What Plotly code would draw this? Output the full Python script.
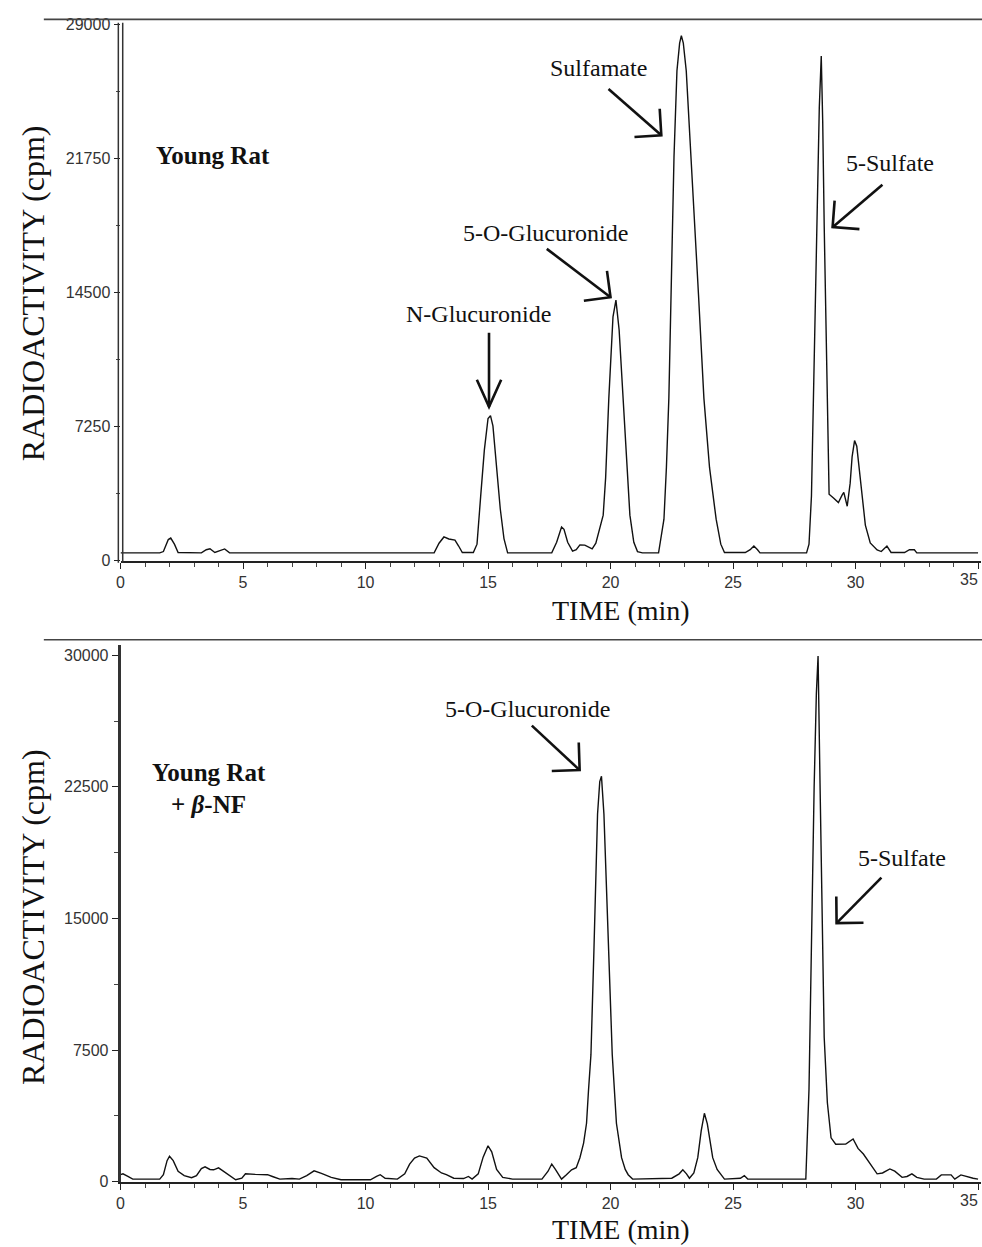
import math
import plotly.graph_objects as go

W, H = 982, 1247

# ---------------- data ----------------
top_time = [0.0, 1.6, 1.75, 1.95, 2.05, 2.2, 2.35, 3.3, 3.5, 3.65, 3.85, 4.1, 4.25, 4.45,
            12.8, 13.0, 13.2, 13.4, 13.65, 13.8, 13.95, 14.4, 14.55, 14.7, 14.85, 15.0, 15.1,
            15.2, 15.35, 15.5, 15.65, 15.8, 17.6, 17.8, 18.0, 18.1, 18.25, 18.45, 18.6, 18.75,
            18.95, 19.15, 19.25, 19.4, 19.55, 19.7, 19.8, 19.93, 20.1, 20.22, 20.35, 20.51,
            20.65, 20.79, 20.95, 21.1, 21.3, 21.96, 22.18, 22.28, 22.38, 22.48, 22.59, 22.71,
            22.82, 22.89, 22.97, 23.09, 23.29, 23.59, 23.81, 24.04, 24.31, 24.5, 24.65, 25.5,
            25.7, 25.85, 26.0, 26.1, 28.0, 28.1, 28.2, 28.27, 28.39, 28.47, 28.52, 28.6, 28.66,
            28.72, 28.79, 28.85, 28.92, 29.1, 29.3, 29.45, 29.52, 29.66, 29.78, 29.86, 29.96,
            30.05, 30.13, 30.27, 30.4, 30.6, 30.88, 31.05, 31.28, 31.45, 32.0, 32.2, 32.4,
            32.5, 35.0]
top_cpm = [430, 430, 500, 1150, 1230, 900, 450, 430, 600, 650, 450, 560, 640, 430,
           430, 950, 1290, 1180, 1120, 800, 450, 450, 900, 3500, 6000, 7700, 7850,
           7300, 5000, 2800, 1200, 430, 430, 1000, 1830, 1700, 1000, 520, 600, 860,
           850, 700, 650, 950, 1700, 2470, 4500, 8800, 13200, 14100, 12500, 8800,
           5000, 2470, 1000, 500, 430, 430, 2250, 5050, 8800, 14390, 21850, 26500,
           28000, 28400, 28000, 26500, 21850, 14390, 8800, 5050, 2250, 900, 450, 450,
           600, 800, 600, 430, 430, 900, 3500, 7900, 14400, 20000, 24500, 27300, 23700,
           18150, 12560, 7300, 3600, 3400, 3150, 3550, 3700, 2950, 4200, 5640, 6500,
           6200, 5260, 3300, 1930, 970, 590, 500, 800, 450, 450, 600, 600,
           430, 430]

bot_time = [0.0, 0.1, 0.3, 0.5, 1.6, 1.75, 1.9, 2.0, 2.15, 2.35, 2.6, 2.9, 3.1, 3.3, 3.45,
            3.65, 3.8, 4.0, 4.15, 4.4, 4.7, 4.95, 5.1, 5.5, 6.0, 6.2, 6.5, 7.0, 7.3, 7.6,
            7.9, 8.2, 8.6, 9.0, 10.2, 10.45, 10.6, 10.8, 11.3, 11.6, 11.8, 12.0, 12.2, 12.5,
            12.8, 13.1, 13.3, 13.6, 14.0, 14.2, 14.35, 14.6, 14.8, 15.0, 15.15, 15.35, 15.6,
            16.0, 17.2, 17.45, 17.6, 17.75, 18.0, 18.2, 18.41, 18.6, 18.75, 18.9, 19.02,
            19.1, 19.2, 19.32, 19.47, 19.56, 19.63, 19.73, 19.93, 20.07, 20.24, 20.45, 20.6,
            20.72, 20.9, 22.5, 22.8, 22.95, 23.1, 23.22, 23.4, 23.56, 23.7, 23.83, 23.95,
            24.17, 24.35, 24.65, 25.3, 25.46, 25.6, 27.97, 28.1, 28.2, 28.31, 28.4, 28.47,
            28.55, 28.65, 28.72, 28.85, 29.0, 29.19, 29.6, 29.9, 30.1, 30.32, 30.6, 30.88,
            31.1, 31.4, 31.6, 31.9, 32.1, 32.3, 32.5, 32.8, 33.3, 33.5, 33.9, 34.05, 34.3,
            34.5, 34.8, 35.0]
bot_cpm = [400, 450, 300, 150, 150, 400, 1200, 1450, 1200, 600, 350, 230, 350, 750, 850,
           700, 680, 790, 650, 400, 110, 200, 450, 420, 400, 300, 150, 180, 150, 350,
           620, 480, 250, 110, 110, 300, 400, 200, 150, 450, 1000, 1350, 1470, 1350,
           800, 500, 400, 200, 180, 300, 150, 450, 1400, 2050, 1700, 700, 250,
           150, 150, 600, 1010, 700, 150, 400, 680, 800, 1370, 2200, 3330,
           5200, 7240, 13100, 20950, 22800, 23100, 20950, 13100, 7240, 3330, 1370, 700,
           400, 150, 200, 450, 680, 450, 200, 500, 1370, 2900, 3900, 3300,
           1370, 700, 150, 200, 350, 150, 150, 5280, 14680, 22500, 27800, 29950,
           22700, 12500, 8230, 4500, 2500, 2140, 2150, 2440, 1900, 1580, 1000, 450,
           500, 730, 600, 250, 300, 450, 250, 150, 150, 390, 390, 150, 390,
           300, 200, 150]

x_ticks = [0, 5, 10, 15, 20, 25, 30, 35]
top_y_ticks = [0, 7250, 14500, 21750, 29000]
bot_y_ticks = [0, 7500, 15000, 22500, 30000]

# ---------------- helpers (pixel -> paper) ----------------
def fx(px):
    return px / W

def fy(py):
    return 1 - py / H

fig = go.Figure()
fig.add_trace(go.Scatter(x=top_time, y=top_cpm, mode="lines", xaxis="x", yaxis="y",
                         line=dict(color="#111111", width=1.4), showlegend=False))
fig.add_trace(go.Scatter(x=bot_time, y=bot_cpm, mode="lines", xaxis="x2", yaxis="y2",
                         line=dict(color="#111111", width=1.4), showlegend=False))

tickfont = dict(family="Liberation Sans, Arial, sans-serif", size=16, color="#333333")
xdom = [fx(117), fx(980.5)]

# last x label (35) sits at the very edge: it is drawn as an annotation nudged inwards
x_ticktext = [str(v) for v in x_ticks[:-1]] + [""]

common_x = dict(range=[0, 35.1], tickvals=x_ticks, ticktext=x_ticktext,
                ticks="outside", ticklen=6, tickwidth=1.2, tickcolor="#222",
                showline=True, linecolor="#222", linewidth=2, showgrid=False, zeroline=False,
                tickfont=tickfont, fixedrange=True,
                minor=dict(dtick=1, tick0=0, ticks="outside", ticklen=4, tickwidth=1,
                           tickcolor="#444"))

fig.update_layout(
    width=W, height=H, autosize=False,
    margin=dict(l=0, r=0, t=0, b=0),
    paper_bgcolor="white", plot_bgcolor="white",
    xaxis=dict(domain=xdom, anchor="y", **common_x),
    xaxis2=dict(domain=xdom, anchor="y2", **common_x),
    yaxis=dict(domain=[fy(561), fy(16)], range=[0, 29100], anchor="x",
               tickvals=top_y_ticks, ticktext=[str(v) for v in top_y_ticks],
               ticks="outside", ticklen=6, tickwidth=1.2, tickcolor="#222",
               showline=False, showgrid=False, zeroline=False, tickfont=tickfont,
               minor=dict(dtick=3625, tick0=0, ticks="outside", ticklen=4, tickwidth=1,
                          tickcolor="#444")),
    yaxis2=dict(domain=[fy(1190), fy(646)], range=[0, 30600], anchor="x2",
                tickvals=bot_y_ticks, ticktext=[str(v) for v in bot_y_ticks],
                ticks="outside", ticklen=6, tickwidth=1.2, tickcolor="#222",
                showline=True, linecolor="#333", linewidth=2.6,
                showgrid=False, zeroline=False, tickfont=tickfont,
                minor=dict(dtick=3750, tick0=0, ticks="outside", ticklen=4, tickwidth=1,
                           tickcolor="#444")),
)

shapes = []
# frame lines at the top of each panel
for py in (12.5, 641):
    shapes.append(dict(type="line", xref="paper", yref="paper", x0=fx(40), x1=fx(982),
                       y0=fy(py), y1=fy(py), line=dict(color="#444", width=1.6)))
# double y-axis line of the upper panel
for px in (114.8, 119.2):
    shapes.append(dict(type="line", xref="paper", yref="paper", x0=fx(px), x1=fx(px),
                       y0=fy(563), y1=fy(16), line=dict(color="#333", width=1.5)))

def arrow(tail, tip, half_angle, arm_len, width=2.6):
    dx, dy = tail[0] - tip[0], tail[1] - tip[1]
    L = math.hypot(dx, dy)
    ux, uy = dx / L, dy / L
    pts = []
    for s in (-1, 1):
        a = math.radians(half_angle) * s
        rx = ux * math.cos(a) - uy * math.sin(a)
        ry = ux * math.sin(a) + uy * math.cos(a)
        pts.append((tip[0] + arm_len * rx, tip[1] + arm_len * ry))
    shapes.append(dict(type="line", xref="paper", yref="paper",
                       x0=fx(tail[0]), y0=fy(tail[1]), x1=fx(tip[0]), y1=fy(tip[1]),
                       line=dict(color="#111", width=width)))
    path = "M {:.5f},{:.5f} L {:.5f},{:.5f} L {:.5f},{:.5f}".format(
        fx(pts[0][0]), fy(pts[0][1]), fx(tip[0]), fy(tip[1]), fx(pts[1][0]), fy(pts[1][1]))
    shapes.append(dict(type="path", xref="paper", yref="paper", path=path,
                       line=dict(color="#111", width=width)))

arrow((487, 330), (487, 405), 24, 30)
arrow((545, 245), (609, 294), 45, 27)
arrow((607, 83), (660, 130), 45, 27)
arrow((882, 180), (832, 223), 45, 27)
arrow((530, 728), (578, 773), 45, 28)
arrow((881, 882), (836, 928), 45, 27)

fig.update_layout(shapes=shapes)

serif = "Liberation Serif, Times New Roman, serif"
ann = []

def text(px, py, s, size, bold=False, angle=0):
    ann.append(dict(x=fx(px), y=fy(py), xref="paper", yref="paper", showarrow=False,
                    text=("<b>%s</b>" % s) if bold else s, textangle=angle,
                    xanchor="center", yanchor="middle",
                    font=dict(family=serif, size=size, color="#111")))

# last x tick label for both panels
for xr, yr in (("x", "y"), ("x2", "y2")):
    ann.append(dict(x=x_ticks[-1], y=0, xref=xr, yref=yr + " domain", showarrow=False,
                    text=str(x_ticks[-1]), xanchor="center", yanchor="top",
                    xshift=-9, yshift=-8, font=tickfont))

# axis titles
text(29, 290, "RADIOACTIVITY (cpm)", 32, angle=-90)
text(29, 922, "RADIOACTIVITY (cpm)", 32, angle=-90)
text(620, 611, "TIME (min)", 28)
text(620, 1238, "TIME (min)", 28)

# panel labels
text(210, 150, "Young Rat", 25, bold=True)
text(206, 775, "Young Rat", 25, bold=True)
text(205, 808, "+ <i>β</i>-NF", 25, bold=True)

# peak labels
text(476, 311, "N-Glucuronide", 24)
text(544, 229, "5-O-Glucuronide", 24)
text(597, 62, "Sulfamate", 24)
text(890, 158, "5-Sulfate", 24)
text(526, 711, "5-O-Glucuronide", 24)
text(902, 862, "5-Sulfate", 24)

fig.update_layout(annotations=ann)

fig.write_html(
    "out.html",
    config={"displayModeBar": False},
    post_script=("document.documentElement.style.margin='0';"
                 "document.documentElement.style.overflow='hidden';"
                 "document.body.style.margin='0';document.body.style.padding='0';"
                 "document.body.style.overflow='hidden';"),
)
